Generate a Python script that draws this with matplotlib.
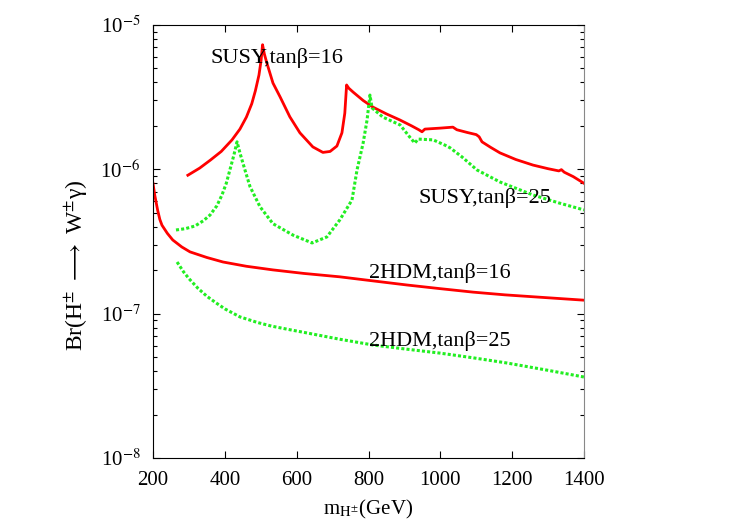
import matplotlib
matplotlib.use("Agg")
import matplotlib.pyplot as plt
from matplotlib.ticker import LogLocator, NullFormatter, FixedLocator

plt.rcParams["font.family"] = ["Liberation Serif", "DejaVu Serif"]
plt.rcParams["mathtext.fontset"] = "stix"

# SUSY, tan(beta)=16 (red solid)
susy16_m = [297, 330, 360, 390, 420, 442, 460, 475, 485, 495, 501, 505, 510, 517,
            534, 554, 581, 609, 645, 673, 693, 712, 726, 734, 739, 745, 757, 785,
            812, 850, 887, 920, 940, 949, 957, 1000, 1035, 1046, 1075, 1100, 1108,
            1116, 1140, 1166, 1210, 1258, 1300, 1330, 1337, 1345, 1370, 1400]
susy16_br = [9.1e-7, 1.02e-6, 1.16e-6, 1.33e-6, 1.6e-6, 1.9e-6, 2.3e-6, 2.85e-6,
             3.5e-6, 4.5e-6, 5.7e-6, 7.3e-6, 6.3e-6, 5.45e-6, 3.96e-6, 3.17e-6,
             2.31e-6, 1.79e-6, 1.43e-6, 1.31e-6, 1.33e-6, 1.45e-6, 1.79e-6, 2.45e-6,
             3.84e-6, 3.65e-6, 3.43e-6, 3.0e-6, 2.7e-6, 2.42e-6, 2.2e-6, 2.0e-6,
             1.88e-6, 1.82e-6, 1.9e-6, 1.93e-6, 1.96e-6, 1.88e-6, 1.8e-6, 1.74e-6,
             1.68e-6, 1.55e-6, 1.42e-6, 1.30e-6, 1.17e-6, 1.07e-6, 1.01e-6, 9.75e-7,
             9.95e-7, 9.55e-7, 8.9e-7, 8.0e-7]

# SUSY, tan(beta)=25 (green dotted)
susy25_m = [264, 290, 317, 340, 359, 378, 392, 404, 414, 425, 434, 442, 456, 470,
            498, 534, 590, 643, 684, 720, 754, 768, 785, 796, 804, 810, 840, 888,
            915, 929, 938, 980, 1013, 1027, 1060, 1102, 1166, 1258, 1330, 1400]
susy25_br = [3.8e-7, 3.88e-7, 4.05e-7, 4.4e-7, 4.83e-7, 5.6e-7, 6.64e-7, 8.0e-7,
             9.9e-7, 1.25e-6, 1.55e-6, 1.3e-6, 9.9e-7, 7.6e-7, 5.5e-7, 4.2e-7,
             3.5e-7, 3.09e-7, 3.4e-7, 4.46e-7, 6.13e-7, 9.9e-7, 1.52e-6, 2.2e-6,
             3.27e-6, 2.66e-6, 2.3e-6, 2.03e-6, 1.67e-6, 1.52e-6, 1.62e-6, 1.6e-6,
             1.47e-6, 1.41e-6, 1.22e-6, 9.9e-7, 8.17e-7, 6.64e-7, 5.85e-7, 5.23e-7]

# 2HDM, tan(beta)=16 (red solid)
thdm16_m = [200, 205, 213, 219, 225, 240, 255, 280, 303, 350, 395, 460, 534, 620,
            720, 810, 907, 1000, 1091, 1180, 1277, 1400]
thdm16_br = [8.0e-7, 6.6e-7, 5.2e-7, 4.5e-7, 4.1e-7, 3.6e-7, 3.24e-7, 2.9e-7,
             2.68e-7, 2.45e-7, 2.28e-7, 2.13e-7, 2.01e-7, 1.9e-7, 1.80e-7, 1.69e-7,
             1.58e-7, 1.49e-7, 1.41e-7, 1.35e-7, 1.30e-7, 1.24e-7]

# 2HDM, tan(beta)=25 (green dotted)
thdm25_m = [267, 285, 300, 325, 350, 375, 400, 442, 490, 530, 580, 629, 720, 812,
            900, 999, 1090, 1186, 1300, 1400]
thdm25_br = [2.28e-7, 1.95e-7, 1.75e-7, 1.5e-7, 1.32e-7, 1.19e-7, 1.08e-7, 9.5e-8,
             8.7e-8, 8.2e-8, 7.75e-8, 7.35e-8, 6.65e-8, 6.07e-8, 5.7e-8, 5.33e-8,
             4.95e-8, 4.55e-8, 4.05e-8, 3.64e-8]

x_ticks = [200, 400, 600, 800, 1000, 1200, 1400]
y_ticks = [1e-8, 1e-7, 1e-6, 1e-5]
y_tick_labels = ["10$^{-8}$", "10$^{-7}$", "10$^{-6}$", "10$^{-5}$"]

RED = "#ff0000"
GREEN = "#22ee22"
dots = (0, (1.0, 0.7))

fig = plt.figure(figsize=(7.5, 5.25), dpi=100)
ax = fig.add_axes([0.204, 0.1276, 0.5747, 0.8248])

ax.plot(susy16_m, susy16_br, color=RED, lw=2.0)
ax.plot(susy25_m, susy25_br, color=GREEN, lw=2.2, linestyle=dots)
ax.plot(thdm16_m, thdm16_br, color=RED, lw=2.0)
ax.plot(thdm25_m, thdm25_br, color=GREEN, lw=2.2, linestyle=dots)

ax.set_yscale("log")
ax.set_xlim(200, 1400)
ax.set_ylim(1e-8, 1e-5)
ax.xaxis.set_major_locator(FixedLocator(x_ticks))
ax.set_yticks(y_ticks)
ax.set_yticklabels(y_tick_labels)
ax.yaxis.set_minor_locator(LogLocator(base=10, subs=range(2, 10)))
ax.yaxis.set_minor_formatter(NullFormatter())
ax.tick_params(which="both", direction="in", top=True, right=True,
               labelsize=15, pad=9)
ax.tick_params(which="major", length=5, width=0.8)
ax.tick_params(which="minor", length=3, width=0.8)
ax.spines["right"].set_color("#888888")

fs = 16
ax.text(359, 5.9e-6, "SUSY,tanβ=16", fontsize=fs, va="center")
ax.text(938, 6.33e-7, "SUSY,tanβ=25", fontsize=fs, va="center")
ax.text(801, 1.91e-7, "2HDM,tanβ=16", fontsize=fs, va="center")
ax.text(801, 6.47e-8, "2HDM,tanβ=25", fontsize=fs, va="center")

ax.set_xlabel(r"m$_{\mathrm{H}^{\pm}}$(GeV)", fontsize=15, labelpad=6)
ax.set_ylabel(r"Br(H$^{\pm}$ $\longrightarrow$ W$^{\pm}$γ)", fontsize=17)
ax.yaxis.set_label_coords(-0.145, 0.446)

fig.savefig("out.png", dpi=100)
